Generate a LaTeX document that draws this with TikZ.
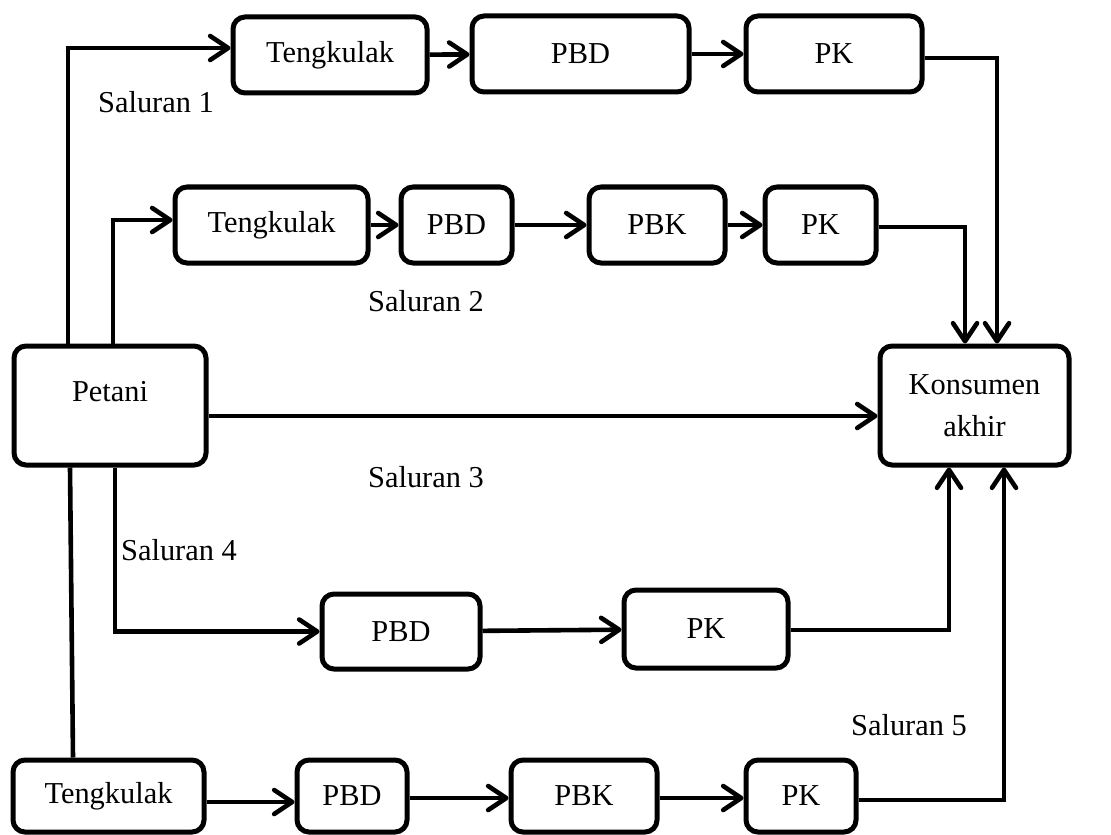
\documentclass[tikz,border=0pt]{standalone}
\usepackage{fontspec}
\setmainfont{Liberation Serif}
\usetikzlibrary{arrows.meta,positioning,calc}

\begin{document}
\begin{tikzpicture}[
			x=0.5pt, y=-0.5pt,
			box/.style={draw, line width=2.5pt, rectangle, rounded corners=6pt, minimum height=38pt, inner sep=0pt, align=center, font=\fontsize{15.2pt}{17pt}\selectfont},
			lbl/.style={font=\fontsize{15.2pt}{17pt}\selectfont, inner sep=0pt},
			link/.style={line width=2.3pt},
			arr/.style={line width=2.3pt, -{Straight Barb[length=9pt, width=12pt, round]}}
			]
			\useasboundingbox (0,0) rectangle (1111,834);
			
			% Ends
			\node[box, minimum width=96pt, minimum height=59.5pt, text depth=14.5pt] (petani) at (110,405.5) {Petani};
			\node[box, minimum width=94.5pt, minimum height=59.5pt] (konsumen) at (974.5,405.5) {Konsumen\\[4pt] akhir};
			
			% Saluran 1
			\node[box, minimum width=97pt] (t1) at (330,55) {Tengkulak};
			\node[box, minimum width=108.5pt] (d1) at (580.5,54) {PBD};
			\node[box, minimum width=88pt] (k1) at (834,54) {PK};
			
			% Saluran 2
			\node[box, minimum width=96.5pt] (t2) at (271.5,225) {Tengkulak};
			\node[box, minimum width=55.5pt] (d2) at (456.5,225) {PBD};
			\node[box, minimum width=68pt] (b2) at (657,225) {PBK};
			\node[box, minimum width=55.5pt] (k2) at (820.5,225) {PK};
			
			% Saluran 4
			\node[box, minimum width=79pt, minimum height=37.5pt] (d4) at (401,631.5) {PBD};
			\node[box, minimum width=82pt, minimum height=39pt] (k4) at (706,629) {PK};
			
			% Saluran 5
			\node[box, minimum width=95.5pt, minimum height=36pt] (t5) at (108.5,796) {Tengkulak};
			\node[box, minimum width=55pt, minimum height=36pt] (d5) at (352,796) {PBD};
			\node[box, minimum width=73pt, minimum height=36pt] (b5) at (584,796) {PBK};
			\node[box, minimum width=55pt, minimum height=36pt] (k5) at (801,796) {PK};
			
			% Labels
			\node[lbl] (s1) at (156,102) {Saluran 1};
			\node[lbl] (s2) at (426,301) {Saluran 2};
			\node[lbl] (s3) at (426,477) {Saluran 3};
			\node[lbl] (s4) at (179,550) {Saluran 4};
			\node[lbl] (s5) at (909,725) {Saluran 5};
			
			% Arrows
			\draw[arr] ([xshift=-21pt]petani.north) |- ([yshift=3.5pt]t1.west);
			\draw[arr] (t1) -- (d1);
			\draw[arr] (d1) -- (k1);
			\draw[arr] ([yshift=-2pt]k1.east) -| ([xshift=11.25pt]konsumen.north);
			
			\draw[arr] ([xshift=1.5pt]petani.north) |- ([yshift=2.5pt]t2.west);
			\draw[arr] (t2) -- (d2);
			\draw[arr] (d2) -- (b2);
			\draw[arr] (b2) -- (k2);
			\draw[arr] ([yshift=-1pt]k2.east) -| ([xshift=-4.75pt]konsumen.north);
			
			\draw[arr] ([yshift=-5.25pt]petani.east) -- ([yshift=-5.25pt]konsumen.west);
			
			\draw[arr] ([xshift=2.5pt]petani.south) |- (d4);
			\draw[arr] (d4) -- (k4);
			\draw[arr] ([yshift=-0.5pt]k4.east) -| ([xshift=-12.75pt]konsumen.south);
			
			\draw[link] ([xshift=-20pt]petani.south) -- ([xshift=-17.75pt]t5.north);
			\draw[arr] ([yshift=-3pt]t5.east) -- ([yshift=-3pt]d5.west);
			\draw[arr] ([yshift=-1pt]d5.east) -- ([yshift=-1pt]b5.west);
			\draw[arr] ([yshift=-1pt]b5.east) -- ([yshift=-1pt]k5.west);
			\draw[arr] ([yshift=-2pt]k5.east) -| ([xshift=14.75pt]konsumen.south);
			
		\end{tikzpicture}
\end{document}
